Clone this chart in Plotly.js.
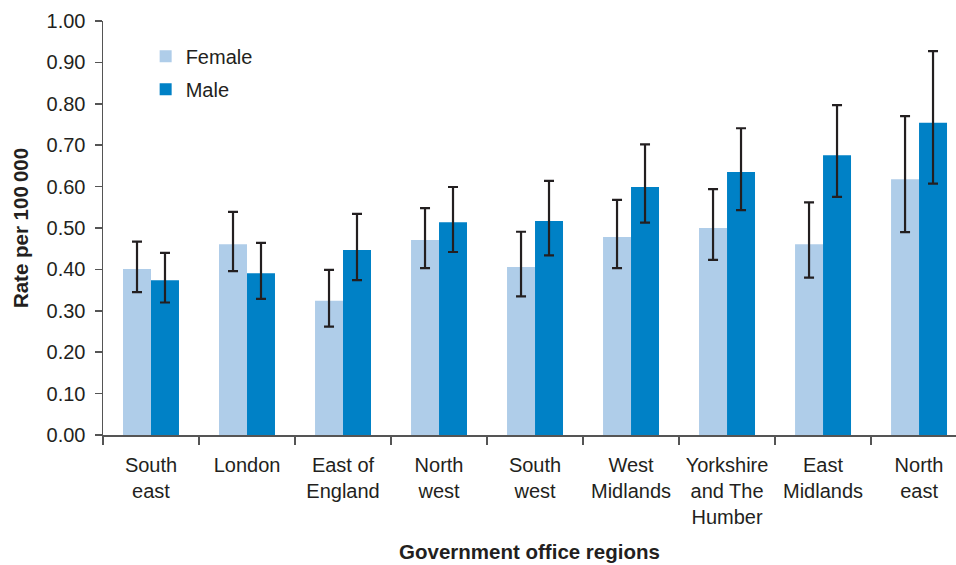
<!DOCTYPE html>
<html>
<head>
<meta charset="utf-8">
<script src="https://cdn.plot.ly/plotly-3.0.1.min.js"></script>
<style>html,body{margin:0;padding:0;background:#fff;}#chart{width:956px;height:565px;}</style>
</head>
<body>
<div id="chart"></div>
<script>
const regions = ["South<br>east", "London", "East of<br>England", "North<br>west", "South<br>west", "West<br>Midlands", "Yorkshire<br>and The<br>Humber", "East<br>Midlands", "North<br>east"];
const femaleRate = [0.401, 0.461, 0.324, 0.471, 0.406, 0.478, 0.500, 0.461, 0.618];
const femaleUpper = [0.467, 0.539, 0.399, 0.548, 0.491, 0.568, 0.594, 0.562, 0.770];
const femaleLower = [0.345, 0.396, 0.262, 0.403, 0.335, 0.403, 0.423, 0.380, 0.490];
const maleRate = [0.374, 0.391, 0.447, 0.514, 0.517, 0.599, 0.635, 0.676, 0.754];
const maleUpper = [0.440, 0.464, 0.534, 0.599, 0.614, 0.702, 0.741, 0.797, 0.927];
const maleLower = [0.320, 0.329, 0.374, 0.442, 0.434, 0.513, 0.543, 0.575, 0.607];
const yTicks = [0, 0.1, 0.2, 0.3, 0.4, 0.5, 0.6, 0.7, 0.8, 0.9, 1.0];

const font = "Liberation Sans, Arial, Helvetica, sans-serif";
const dark = "#231f20";
function errs(v, up, lo) {
  return {type: "data", symmetric: false,
    array: up.map((u, i) => u - v[i]),
    arrayminus: lo.map((l, i) => v[i] - l),
    color: dark, thickness: 2.2, width: 5};
}
const traces = [
  {type: "bar", name: "Female", x: regions, y: femaleRate, marker: {color: "#afcde9"},
   error_y: errs(femaleRate, femaleUpper, femaleLower), legendgroup: "f"},
  {type: "bar", name: "Male", x: regions, y: maleRate, marker: {color: "#0081c6"},
   error_y: errs(maleRate, maleUpper, maleLower), legendgroup: "m"}
];
const layout = {
  width: 956, height: 565,
  margin: {l: 103, r: 0, t: 21, b: 130},
  paper_bgcolor: "#fff", plot_bgcolor: "#fff",
  font: {family: font, color: dark, size: 20},
  barmode: "group", bargap: 0.417, bargroupgap: 0,
  showlegend: true,
  legend: {x: 0.05, y: 0.962, xanchor: "left", yanchor: "top", font: {size: 20, color: dark},
           tracegroupgap: 4, bgcolor: "rgba(0,0,0,0)"},
  xaxis: {
    type: "category", range: [-0.5, 8.385], tickson: "boundaries",
    ticks: "outside", ticklen: 8, tickwidth: 1.5, tickcolor: "#555",
    showline: true, linecolor: "#555", linewidth: 1.5,
    showgrid: false, zeroline: false, ticklabelstandoff: 11,
    tickfont: {size: 20, color: dark},
    title: {text: "<b>Government office regions</b>", font: {size: 20.5, color: dark}, standoff: 18}
  },
  yaxis: {
    range: [0, 1.0], tickvals: yTicks, ticktext: yTicks.map(v => v.toFixed(2)),
    ticks: "outside", ticklen: 7, tickwidth: 1.5, tickcolor: "#555",
    showline: true, linecolor: "#555", linewidth: 1.5,
    showgrid: false, zeroline: false, ticklabelstandoff: 5,
    tickfont: {size: 20, color: dark},
    title: {text: "<b>Rate per 100\u2009000</b>", font: {size: 20.5, color: dark}, standoff: 12}
  }
};
Plotly.newPlot("chart", traces, layout, {displayModeBar: false, staticPlot: true});
</script>
</body>
</html>
